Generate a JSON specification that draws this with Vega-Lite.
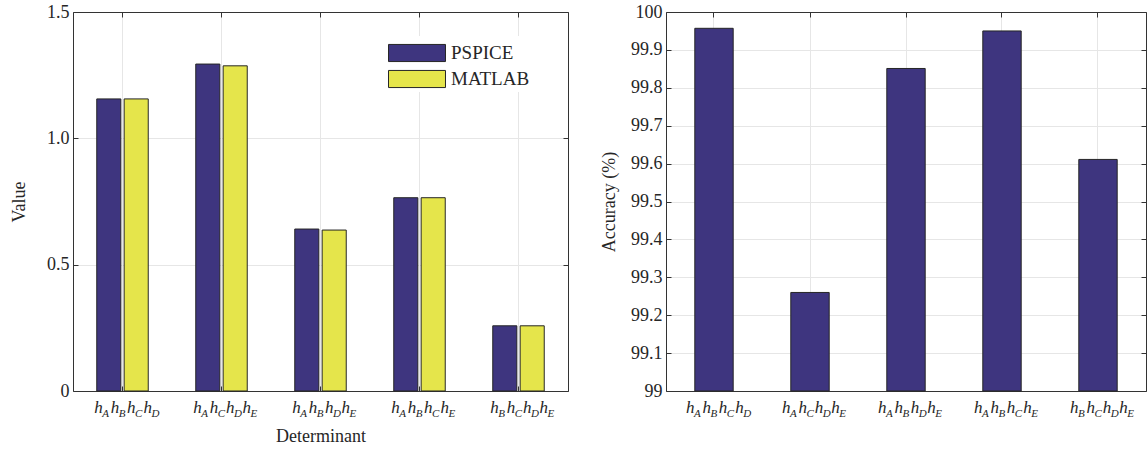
{
  "$schema": "https://vega.github.io/schema/vega-lite/v6.json",
  "background": "white",
  "padding": {"left": 10, "top": 3, "right": 0, "bottom": 0},
  "config": {
    "font": "Liberation Serif",
    "view": {"stroke": null},
    "axis": {
      "labelFont": "Liberation Serif",
      "titleFont": "Liberation Serif",
      "labelFontSize": 18,
      "titleFontSize": 18,
      "titleFontWeight": "normal",
      "labelColor": "#262626",
      "titleColor": "#262626",
      "domainColor": "#333333",
      "tickColor": "#333333",
      "gridColor": "#e6e6e6",
      "tickSize": -5,
      "labelPadding": 9
    },
    "legend": {
      "labelFont": "Liberation Serif",
      "labelFontSize": 19,
      "labelColor": "#262626"
    }
  },
  "datasets": {
    "vals": [
      {"det": "ABCD", "source": "PSPICE", "value": 1.156},
      {"det": "ABCD", "source": "MATLAB", "value": 1.156},
      {"det": "ACDE", "source": "PSPICE", "value": 1.294},
      {"det": "ACDE", "source": "MATLAB", "value": 1.287},
      {"det": "ABDE", "source": "PSPICE", "value": 0.641},
      {"det": "ABDE", "source": "MATLAB", "value": 0.637},
      {"det": "ABCE", "source": "PSPICE", "value": 0.765},
      {"det": "ABCE", "source": "MATLAB", "value": 0.765},
      {"det": "BCDE", "source": "PSPICE", "value": 0.258},
      {"det": "BCDE", "source": "MATLAB", "value": 0.258}
    ],
    "acc": [
      {"det": "ABCD", "accuracy": 99.957},
      {"det": "ACDE", "accuracy": 99.26},
      {"det": "ABDE", "accuracy": 99.851},
      {"det": "ABCE", "accuracy": 99.95},
      {"det": "BCDE", "accuracy": 99.611}
    ],
    "labels": [
      {"det": "ABCD", "k": 0, "sub": "A"}, {"det": "ABCD", "k": 1, "sub": "B"}, {"det": "ABCD", "k": 2, "sub": "C"}, {"det": "ABCD", "k": 3, "sub": "D"},
      {"det": "ACDE", "k": 0, "sub": "A"}, {"det": "ACDE", "k": 1, "sub": "C"}, {"det": "ACDE", "k": 2, "sub": "D"}, {"det": "ACDE", "k": 3, "sub": "E"},
      {"det": "ABDE", "k": 0, "sub": "A"}, {"det": "ABDE", "k": 1, "sub": "B"}, {"det": "ABDE", "k": 2, "sub": "D"}, {"det": "ABDE", "k": 3, "sub": "E"},
      {"det": "ABCE", "k": 0, "sub": "A"}, {"det": "ABCE", "k": 1, "sub": "B"}, {"det": "ABCE", "k": 2, "sub": "C"}, {"det": "ABCE", "k": 3, "sub": "E"},
      {"det": "BCDE", "k": 0, "sub": "B"}, {"det": "BCDE", "k": 1, "sub": "C"}, {"det": "BCDE", "k": 2, "sub": "D"}, {"det": "BCDE", "k": 3, "sub": "E"}
    ]
  },
  "spacing": 31,
  "hconcat": [
    {
      "width": 495,
      "height": 379,
      "layer": [
        {
          "data": {"name": "vals"},
          "mark": {"type": "bar", "stroke": "#262626", "strokeWidth": 1},
          "encoding": {
            "x": {
              "field": "det", "type": "nominal", "sort": null,
              "scale": {"paddingInner": 0.48, "paddingOuter": 0.24},
              "axis": {"orient": "bottom", "labels": false, "grid": true, "bandPosition": 0.5, "title": "Determinant", "titlePadding": 36}
            },
            "xOffset": {"field": "source", "type": "nominal", "sort": ["PSPICE", "MATLAB"], "scale": {"paddingInner": 0.12, "paddingOuter": 0}},
            "y": {
              "field": "value", "type": "quantitative",
              "scale": {"domain": [0, 1.5], "nice": false, "zero": false},
              "axis": {"orient": "left", "values": [0, 0.5, 1, 1.5], "grid": true, "title": "Value", "titlePadding": 18,
                "labelExpr": "datum.value == 0 ? '0' : format(datum.value, '.1f')"}
            },
            "y2": {"datum": 0},
            "color": {
              "field": "source", "type": "nominal", "sort": ["PSPICE", "MATLAB"],
              "scale": {"domain": ["PSPICE", "MATLAB"], "range": ["#3e357f", "#e5e54b"]},
              "legend": {
                "title": null, "orient": "none", "legendX": 327, "legendY": 24,
                "symbolType": "M-2,-0.6H2V0.6H-2Z", "symbolSize": 812,
                "symbolStrokeColor": "#262626", "symbolStrokeWidth": 1,
                "rowPadding": -5, "labelOffset": 19, "fillColor": "white", "padding": 2
              }
            }
          }
        },
        {
          "data": {"name": "labels"},
          "mark": {"type": "text", "text": "h", "fontStyle": "italic", "fontSize": 17, "align": "left", "baseline": "alphabetic", "dy": 22, "color": "#262626"},
          "encoding": {
            "x": {"field": "det", "type": "nominal", "sort": null,
              "axis": {"orient": "top", "labels": false, "grid": false, "bandPosition": 0.5, "title": null}},
            "xOffset": {"field": "k", "type": "quantitative", "scale": {"domain": [0.152, 3.292], "zero": false, "nice": false}},
            "y": {"datum": 0,
              "axis": {"orient": "right", "values": [0, 0.5, 1, 1.5], "labels": false, "grid": false, "title": null}}
          }
        },
        {
          "data": {"name": "labels"},
          "mark": {"type": "text", "fontStyle": "italic", "fontSize": 11, "align": "left", "baseline": "alphabetic", "dx": 8, "dy": 26, "color": "#262626"},
          "encoding": {
            "x": {"field": "det", "type": "nominal", "sort": null, "axis": null},
            "xOffset": {"field": "k", "type": "quantitative", "scale": {"domain": [0.152, 3.292], "zero": false, "nice": false}},
            "y": {"datum": 0, "axis": null},
            "text": {"field": "sub"}
          }
        }
      ],
      "resolve": {"axis": {"x": "independent", "y": "independent"}, "scale": {"xOffset": "independent"}}
    },
    {
      "width": 480,
      "height": 379,
      "layer": [
        {
          "data": {"name": "acc"},
          "mark": {"type": "bar", "color": "#3e357f", "stroke": "#262626", "strokeWidth": 1},
          "encoding": {
            "x": {
              "field": "det", "type": "nominal", "sort": null,
              "scale": {"paddingInner": 0.6, "paddingOuter": 0.3},
              "axis": {"orient": "bottom", "labels": false, "grid": true, "bandPosition": 0.5, "title": null}
            },
            "y": {
              "field": "accuracy", "type": "quantitative",
              "scale": {"domain": [99, 100], "nice": false, "zero": false},
              "axis": {"orient": "left", "grid": true, "title": "Accuracy (%)", "titlePadding": 12,
                "values": [99, 99.1, 99.2, 99.3, 99.4, 99.5, 99.6, 99.7, 99.8, 99.9, 100],
                "labelExpr": "(datum.value == 99 || datum.value == 100) ? format(datum.value, 'd') : format(datum.value, '.1f')"}
            },
            "y2": {"datum": 99}
          }
        },
        {
          "data": {"name": "labels"},
          "mark": {"type": "text", "text": "h", "fontStyle": "italic", "fontSize": 17, "align": "left", "baseline": "alphabetic", "dy": 22, "color": "#262626"},
          "encoding": {
            "x": {"field": "det", "type": "nominal", "sort": null,
              "axis": {"orient": "top", "labels": false, "grid": false, "bandPosition": 0.5, "title": null}},
            "xOffset": {"field": "k", "type": "quantitative", "scale": {"domain": [0.537, 2.878], "zero": false, "nice": false}},
            "y": {"datum": 99,
              "axis": {"orient": "right", "labels": false, "grid": false, "title": null,
                "values": [99, 99.1, 99.2, 99.3, 99.4, 99.5, 99.6, 99.7, 99.8, 99.9, 100]}}
          }
        },
        {
          "data": {"name": "labels"},
          "mark": {"type": "text", "fontStyle": "italic", "fontSize": 11, "align": "left", "baseline": "alphabetic", "dx": 8, "dy": 26, "color": "#262626"},
          "encoding": {
            "x": {"field": "det", "type": "nominal", "sort": null, "axis": null},
            "xOffset": {"field": "k", "type": "quantitative", "scale": {"domain": [0.537, 2.878], "zero": false, "nice": false}},
            "y": {"datum": 99, "axis": null},
            "text": {"field": "sub"}
          }
        }
      ],
      "resolve": {"axis": {"x": "independent", "y": "independent"}, "scale": {"xOffset": "independent"}}
    }
  ]
}
